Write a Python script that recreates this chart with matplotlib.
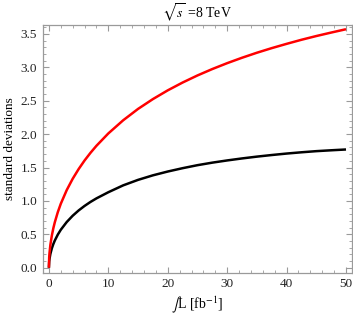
import numpy as np
import matplotlib
matplotlib.use("Agg")
import matplotlib.pyplot as plt
from matplotlib.ticker import MultipleLocator

plt.rcParams['font.family'] = ['Liberation Serif', 'DejaVu Serif']
plt.rcParams['mathtext.fontset'] = 'stix'

# integrated luminosity [fb^-1] and significance
lumi = [0, 0.05, 0.1, 0.25, 0.5, 0.75, 1, 1.5, 2, 3, 4, 5, 6, 7, 8, 10,
        12.5, 15, 17.5, 20, 22.5, 25, 27.5, 30, 32.5, 35, 37.5, 40, 42.5,
        45, 47.5, 50]
sig_red = [0, 0.154, 0.217, 0.343, 0.484, 0.592, 0.682, 0.832, 0.957, 1.162,
           1.331, 1.476, 1.605, 1.72, 1.825, 2.01, 2.207, 2.377, 2.524, 2.655,
           2.772, 2.878, 2.974, 3.062, 3.143, 3.218, 3.287, 3.351, 3.412,
           3.468, 3.52, 3.57]
sig_black = [0, 0.093, 0.131, 0.207, 0.291, 0.355, 0.408, 0.496, 0.568, 0.684,
             0.778, 0.857, 0.925, 0.985, 1.038, 1.13, 1.233, 1.315, 1.383, 1.44,
             1.49, 1.535, 1.573, 1.606, 1.636, 1.663, 1.687, 1.709, 1.728,
             1.745, 1.758, 1.77]

fig = plt.figure(figsize=(3.53, 3.19), dpi=100)
ax = fig.add_axes([0.121, 0.145, 0.876, 0.777])

ax.plot(lumi, sig_black, color='black', lw=1.8, solid_capstyle='butt')
ax.plot(lumi, sig_red, color='#ff0000', lw=1.8, solid_capstyle='butt')

ax.set_xlim(-1.04, 51)
ax.set_ylim(-0.075, 3.635)

gray = '#9a9a9a'
for s in ax.spines.values():
    s.set_color(gray)
    s.set_linewidth(0.9)

ax.xaxis.set_major_locator(MultipleLocator(10))
ax.xaxis.set_minor_locator(MultipleLocator(2))
ax.yaxis.set_major_locator(MultipleLocator(0.5))
ax.yaxis.set_minor_locator(MultipleLocator(0.1))
ax.tick_params(which='both', direction='in', top=True, right=True, color=gray,
               labelsize=9.5, labelcolor='#222222')
ax.tick_params(which='major', length=4, width=0.8)
ax.tick_params(which='minor', length=2, width=0.6)
ax.tick_params(axis='x', pad=4)
ax.tick_params(axis='y', pad=4)

ax.set_title(r'$\sqrt{s}$ =8 TeV', fontsize=10, pad=5)
ax.set_ylabel('standard deviations', fontsize=9.5, labelpad=3)
ax.set_xlabel(r'$\int$L [fb$^{-1}$]', fontsize=10, labelpad=3)

fig.savefig('out.png', dpi=100)
